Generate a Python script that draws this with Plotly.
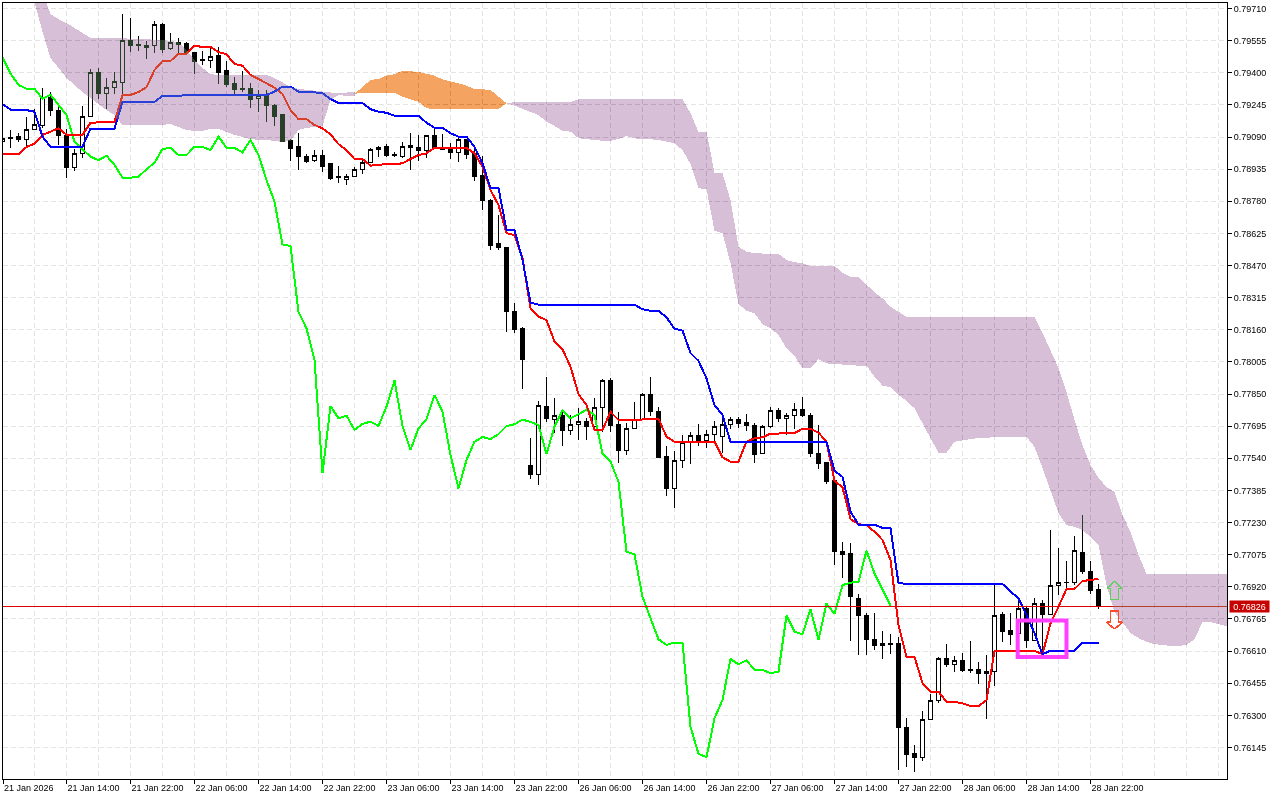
import plotly.graph_objects as go

opens = [
0.79066,0.79090,0.79092,0.79079,0.79127,0.79145,0.79280,0.79220,0.79096,0.78942,
0.79011,0.79188,0.79402,0.79299,0.79330,0.79352,0.79557,0.79534,0.79521,0.79532,
0.79635,0.79516,0.79548,0.79539,0.79497,0.79462,0.79460,0.79481,0.79409,0.79346,
0.79326,0.79326,0.79275,0.79289,0.79244,0.79198,0.79071,0.79042,0.78998,0.78976,
0.79003,0.78960,0.78900,0.78884,0.78899,0.78932,0.78966,0.79031,0.79042,0.79007,
0.78998,0.79047,0.79040,0.79024,0.79095,0.79039,0.79036,0.79016,0.79076,0.79011,
0.78902,0.78786,0.78574,0.78558,0.78249,0.78164,0.77503,0.77463,0.77792,0.77728,
0.77748,0.77673,0.77702,0.77720,0.77693,0.77786,0.77916,0.77701,0.77579,0.77683,
0.77725,0.77849,0.77767,0.77550,0.77394,0.77531,0.77619,0.77651,0.77625,0.77654,
0.77644,0.77702,0.77728,0.77714,0.77699,0.77562,0.77693,0.77770,0.77731,0.77748,
0.77777,0.77749,0.77564,0.77518,0.77431,0.77092,0.77079,0.76866,0.76784,0.76667,
0.76636,0.76647,0.76648,0.76243,0.76117,0.76098,0.76281,0.76373,0.76575,0.76546,
0.76566,0.76522,0.76522,0.76501,0.76513,0.76788,0.76707,0.76693,0.76817,0.76660,
0.76841,0.76786,0.76928,0.76943,0.76940,0.77088,0.76995,0.76905]
highs = [
0.79100,0.79124,0.79109,0.79187,0.79225,0.79326,0.79307,0.79240,0.79129,0.79032,
0.79240,0.79418,0.79423,0.79375,0.79404,0.79683,0.79664,0.79577,0.79553,0.79650,
0.79640,0.79592,0.79568,0.79548,0.79500,0.79505,0.79524,0.79524,0.79457,0.79380,
0.79409,0.79351,0.79317,0.79317,0.79250,0.79201,0.79080,0.79109,0.79008,0.79027,
0.79027,0.78965,0.78950,0.78912,0.78947,0.78989,0.79037,0.79048,0.79055,0.79016,
0.79065,0.79108,0.79100,0.79100,0.79132,0.79105,0.79063,0.79085,0.79079,0.79036,
0.78998,0.78790,0.78714,0.78561,0.78288,0.78172,0.77637,0.77815,0.77932,0.77831,
0.77773,0.77749,0.77781,0.77736,0.77830,0.77921,0.77926,0.77762,0.77709,0.77810,
0.77854,0.77932,0.77789,0.77599,0.77575,0.77653,0.77666,0.77706,0.77677,0.77719,
0.77759,0.77738,0.77738,0.77752,0.77709,0.77701,0.77786,0.77781,0.77757,0.77806,
0.77834,0.77757,0.77701,0.77524,0.77435,0.77135,0.77130,0.76886,0.76792,0.76794,
0.76707,0.76691,0.76677,0.76287,0.76157,0.76321,0.76403,0.76580,0.76644,0.76586,
0.76599,0.76657,0.76557,0.76591,0.76934,0.76800,0.76794,0.76857,0.76825,0.76868,
0.76857,0.77194,0.77106,0.77046,0.77165,0.77267,0.77046,0.76934]
lows = [
0.79037,0.79037,0.79066,0.79042,0.79124,0.79134,0.79191,0.79052,0.78892,0.78926,
0.78989,0.79187,0.79273,0.79225,0.79298,0.79293,0.79500,0.79505,0.79466,0.79495,
0.79495,0.79512,0.79495,0.79495,0.79394,0.79437,0.79423,0.79346,0.79331,0.79298,
0.79307,0.79230,0.79211,0.79162,0.79143,0.79066,0.78974,0.78931,0.78965,0.78970,
0.78921,0.78883,0.78868,0.78859,0.78899,0.78912,0.78963,0.78995,0.78995,0.78995,
0.78990,0.78931,0.78976,0.78990,0.79034,0.79027,0.78983,0.78971,0.78983,0.78878,
0.78738,0.78545,0.78545,0.78151,0.78146,0.77876,0.77440,0.77411,0.77717,0.77664,
0.77599,0.77653,0.77628,0.77628,0.77677,0.77667,0.77668,0.77519,0.77556,0.77683,
0.77725,0.77744,0.77542,0.77358,0.77299,0.77493,0.77513,0.77601,0.77588,0.77620,
0.77564,0.77683,0.77688,0.77672,0.77519,0.77562,0.77688,0.77717,0.77653,0.77680,
0.77741,0.77548,0.77490,0.77416,0.77025,0.76963,0.76659,0.76591,0.76591,0.76615,
0.76573,0.76596,0.76037,0.76053,0.76028,0.76081,0.76281,0.76361,0.76535,0.76511,
0.76508,0.76506,0.76451,0.76281,0.76443,0.76655,0.76640,0.76688,0.76625,0.76660,
0.76611,0.76786,0.76881,0.76916,0.76929,0.76982,0.76886,0.76815]
closes = [
0.79083,0.79082,0.79076,0.79127,0.79151,0.79280,0.79217,0.79096,0.78942,0.79011,
0.79191,0.79402,0.79298,0.79330,0.79359,0.79557,0.79531,0.79531,0.79532,0.79634,
0.79510,0.79547,0.79535,0.79497,0.79452,0.79458,0.79479,0.79399,0.79341,0.79318,
0.79320,0.79273,0.79289,0.79240,0.79191,0.79066,0.79034,0.78995,0.78974,0.79002,
0.78950,0.78888,0.78894,0.78901,0.78934,0.78968,0.79032,0.79040,0.79003,0.79002,
0.79045,0.79040,0.79024,0.79095,0.79034,0.79032,0.79014,0.79079,0.79008,0.78899,
0.78783,0.78569,0.78559,0.78247,0.78161,0.78016,0.77460,0.77796,0.77731,0.77748,
0.77673,0.77704,0.77719,0.77693,0.77786,0.77916,0.77697,0.77579,0.77683,0.77725,
0.77849,0.77765,0.77546,0.77394,0.77531,0.77617,0.77651,0.77628,0.77656,0.77695,
0.77704,0.77728,0.77710,0.77697,0.77558,0.77695,0.77770,0.77733,0.77748,0.77777,
0.77746,0.77562,0.77514,0.77427,0.77090,0.77075,0.76872,0.76781,0.76665,0.76636,
0.76648,0.76644,0.76240,0.76109,0.76096,0.76281,0.76373,0.76575,0.76544,0.76564,
0.76517,0.76516,0.76501,0.76511,0.76783,0.76704,0.76688,0.76817,0.76660,0.76841,
0.76786,0.76928,0.76940,0.76940,0.77094,0.76993,0.76901,0.76826]

tenkan = [
0.79007,0.79007,0.79007,0.79042,0.79058,0.79100,0.79116,0.79132,0.79101,0.79101,
0.79101,0.79159,0.79162,0.79162,0.79164,0.79291,0.79293,0.79307,0.79330,0.79413,
0.79457,0.79457,0.79491,0.79492,0.79531,0.79524,0.79524,0.79500,0.79489,0.79442,
0.79434,0.79389,0.79370,0.79349,0.79328,0.79298,0.79220,0.79176,0.79176,0.79148,
0.79132,0.79103,0.79056,0.79027,0.78984,0.78984,0.78952,0.78955,0.78960,0.78960,
0.78963,0.78984,0.79003,0.79011,0.79038,0.79038,0.79038,0.79038,0.79038,0.79011,
0.78947,0.78834,0.78762,0.78626,0.78617,0.78506,0.78264,0.78223,0.78207,0.78103,
0.78066,0.77982,0.77850,0.77797,0.77677,0.77677,0.77764,0.77725,0.77725,0.77725,
0.77725,0.77728,0.77731,0.77644,0.77620,0.77620,0.77620,0.77620,0.77620,0.77620,
0.77545,0.77524,0.77524,0.77620,0.77637,0.77641,0.77659,0.77659,0.77659,0.77661,
0.77683,0.77683,0.77664,0.77620,0.77431,0.77400,0.77247,0.77222,0.77218,0.77186,
0.77146,0.77050,0.76736,0.76583,0.76583,0.76455,0.76414,0.76414,0.76366,0.76365,
0.76358,0.76345,0.76345,0.76374,0.76611,0.76611,0.76611,0.76611,0.76611,0.76611,
0.76595,0.76744,0.76824,0.76910,0.76910,0.76948,0.76953,0.76959]
kijun = [
0.79249,0.79222,0.79222,0.79220,0.79212,0.79092,0.79043,0.79043,0.79043,0.79043,
0.79043,0.79130,0.79130,0.79130,0.79130,0.79259,0.79259,0.79259,0.79259,0.79259,
0.79288,0.79288,0.79288,0.79293,0.79293,0.79293,0.79293,0.79293,0.79293,0.79293,
0.79293,0.79293,0.79293,0.79293,0.79309,0.79333,0.79333,0.79309,0.79309,0.79306,
0.79302,0.79273,0.79254,0.79254,0.79256,0.79253,0.79224,0.79212,0.79207,0.79193,
0.79193,0.79193,0.79193,0.79159,0.79135,0.79135,0.79108,0.79092,0.79092,0.79043,
0.78963,0.78844,0.78844,0.78641,0.78641,0.78497,0.78291,0.78281,0.78281,0.78281,
0.78281,0.78281,0.78281,0.78281,0.78281,0.78281,0.78281,0.78281,0.78281,0.78281,
0.78259,0.78252,0.78252,0.78220,0.78165,0.78156,0.78048,0.78010,0.77926,0.77797,
0.77749,0.77620,0.77620,0.77620,0.77620,0.77620,0.77620,0.77620,0.77620,0.77620,
0.77620,0.77620,0.77620,0.77620,0.77480,0.77451,0.77283,0.77220,0.77220,0.77220,
0.77204,0.77204,0.76937,0.76934,0.76934,0.76934,0.76934,0.76934,0.76934,0.76934,
0.76934,0.76934,0.76934,0.76934,0.76934,0.76934,0.76897,0.76865,0.76784,0.76696,
0.76595,0.76612,0.76612,0.76612,0.76612,0.76651,0.76651,0.76651]
chikou = [
0.79475,0.79397,0.79341,0.79323,0.79323,0.79275,0.79294,0.79244,0.79196,0.79067,
0.79031,0.78995,0.78978,0.79000,0.78955,0.78894,0.78894,0.78899,0.78934,0.78966,
0.79032,0.79038,0.79003,0.79003,0.79043,0.79043,0.79027,0.79092,0.79038,0.79038,
0.79016,0.79076,0.79003,0.78883,0.78778,0.78572,0.78564,0.78247,0.78167,0.78014,
0.77468,0.77792,0.77733,0.77746,0.77677,0.77706,0.77717,0.77696,0.77789,0.77915,
0.77696,0.77580,0.77685,0.77728,0.77846,0.77765,0.77556,0.77395,0.77532,0.77620,
0.77643,0.77632,0.77657,0.77696,0.77704,0.77727,0.77715,0.77701,0.77561,0.77693,
0.77772,0.77733,0.77752,0.77775,0.77749,0.77562,0.77524,0.77427,0.77090,0.77077,
0.76872,0.76768,0.76667,0.76640,0.76651,0.76651,0.76245,0.76114,0.76098,0.76286,
0.76374,0.76572,0.76546,0.76566,0.76519,0.76520,0.76503,0.76511,0.76781,0.76704,
0.76691,0.76813,0.76664,0.76839,0.76790,0.76928,0.76940,0.76945,0.77094,0.76985,
0.76905,0.76829]

# Cloud, first purple stretch: bars 4..44
cloud1_start = 4
cloud1_upper = [
0.79896,0.79790,0.79683,0.79659,0.79640,0.79616,0.79592,0.79568,0.79568,0.79568,
0.79568,0.79568,0.79563,0.79563,0.79563,0.79558,0.79558,0.79553,0.79548,0.79510,
0.79462,0.79423,0.79394,0.79389,0.79389,0.79389,0.79389,0.79389,0.79389,0.79389,
0.79375,0.79351,0.79331,0.79322,0.79317,0.79312,0.79307,0.79305,0.79302,0.79305,
0.79307]
cloud1_lower = [
0.79741,0.79597,0.79471,0.79423,0.79375,0.79341,0.79307,0.79278,0.79249,0.79220,
0.79196,0.79148,0.79148,0.79148,0.79148,0.79148,0.79148,0.79153,0.79138,0.79124,
0.79119,0.79119,0.79129,0.79129,0.79114,0.79100,0.79090,0.79080,0.79076,0.79076,
0.79071,0.79066,0.79071,0.79124,0.79134,0.79138,0.79143,0.79269,0.79293,0.79288,
0.79289]
# Cloud, orange stretch: bars 44..63
cloud2_start = 44
cloud2_upper = [
0.79298,0.79330,0.79365,0.79370,0.79386,0.79393,0.79410,0.79407,0.79404,0.79395,
0.79386,0.79368,0.79360,0.79349,0.79338,0.79320,0.79320,0.79317,0.79285,0.79253]
cloud2_lower = [
0.79298,0.79304,0.79304,0.79304,0.79304,0.79304,0.79285,0.79272,0.79260,0.79229,
0.79225,0.79225,0.79225,0.79225,0.79225,0.79225,0.79225,0.79225,0.79225,0.79253]
# Cloud, second purple stretch: bars 63..153
cloud3_start = 63
cloud3_upper = [
0.79253,0.79258,0.79258,0.79258,0.79258,0.79258,0.79258,0.79258,0.79258,0.79272,
0.79273,0.79273,0.79273,0.79273,0.79273,0.79273,0.79273,0.79273,0.79273,0.79273,
0.79273,0.79273,0.79273,0.79206,0.79114,0.79114,0.78918,0.78915,0.78786,0.78561,
0.78537,0.78529,0.78529,0.78529,0.78526,0.78497,0.78486,0.78481,0.78469,0.78469,
0.78469,0.78469,0.78435,0.78416,0.78415,0.78380,0.78341,0.78312,0.78271,0.78247,
0.78222,0.78222,0.78222,0.78222,0.78222,0.78222,0.78222,0.78222,0.78222,0.78222,
0.78222,0.78222,0.78222,0.78222,0.78222,0.78222,0.78222,0.78145,0.78063,0.77976,
0.77860,0.77725,0.77604,0.77508,0.77445,0.77402,0.77378,0.77267,0.77185,0.77074,
0.76982,0.76982,0.76982,0.76982,0.76982,0.76982,0.76982,0.76982,0.76982,0.76982,
0.76982]
cloud3_lower = [
0.79253,0.79241,0.79225,0.79212,0.79196,0.79164,0.79143,0.79120,0.79116,0.79084,
0.79079,0.79076,0.79072,0.79072,0.79080,0.79095,0.79084,0.79079,0.79079,0.79076,
0.79067,0.79060,0.79027,0.78960,0.78843,0.78838,0.78637,0.78626,0.78481,0.78284,
0.78252,0.78240,0.78188,0.78167,0.78135,0.78071,0.78034,0.77974,0.77974,0.78018,
0.77998,0.77998,0.77994,0.77990,0.77987,0.77987,0.77934,0.77890,0.77883,0.77846,
0.77817,0.77781,0.77709,0.77637,0.77567,0.77567,0.77620,0.77628,0.77633,0.77638,
0.77638,0.77643,0.77643,0.77643,0.77643,0.77643,0.77595,0.77493,0.77387,0.77276,
0.77218,0.77209,0.77194,0.77160,0.77122,0.76929,0.76799,0.76746,0.76697,0.76673,
0.76654,0.76644,0.76640,0.76635,0.76635,0.76640,0.76668,0.76750,0.76750,0.76741,
0.76731]

assert len(opens) == len(highs) == len(lows) == len(closes) == len(tenkan) == len(kijun) == 138
assert len(chikou) == 112
assert len(cloud1_upper) == len(cloud1_lower)
assert len(cloud2_upper) == len(cloud2_lower)
assert len(cloud3_upper) == len(cloud3_lower) == 91

current_price = 0.76826
price_ticks = [0.79710,0.79555,0.79400,0.79245,0.79090,0.78935,0.78780,0.78625,0.78470,0.78315,0.78160,0.78005,
               0.77850,0.77695,0.77540,0.77385,0.77230,0.77075,0.76920,0.76765,0.76610,0.76455,0.76300,0.76145]
time_labels = ["21 Jan 2026","21 Jan 14:00","21 Jan 22:00","22 Jan 06:00","22 Jan 14:00","22 Jan 22:00",
               "23 Jan 06:00","23 Jan 14:00","23 Jan 22:00","26 Jan 06:00","26 Jan 14:00","26 Jan 22:00",
               "27 Jan 06:00","27 Jan 14:00","27 Jan 22:00","28 Jan 06:00","28 Jan 14:00","28 Jan 22:00"]

FONT = "Liberation Sans"
THISTLE = "#D8BFD8"
SANDY = "#F4A460"
GRID = "#E4E4E4"
DASH = "5px,3px"
X0, X1 = 0.0625, 153.0625
PPP = 0.00155 / 32.13            # price per pixel
Y1 = 0.79710 + 5.5 * PPP
Y0 = 0.79710 - 770.5 * PPP
time_ticks = [X0 if i == 0 else 8 * i for i in range(len(time_labels))]
grid_bars = [k for k in range(4, 154, 4) if k not in time_ticks]

bars = list(range(len(opens)))
fig = go.Figure()
fig.add_trace(go.Candlestick(
    x=bars, open=opens, high=highs, low=lows, close=closes, whiskerwidth=0,
    increasing=dict(line=dict(color="#000000", width=1), fillcolor="#FFFFFF"),
    decreasing=dict(line=dict(color="#000000", width=1), fillcolor="#000000"),
    hoverinfo="skip", name="Candles"))
fig.add_trace(go.Scatter(x=list(range(len(chikou))), y=chikou, mode="lines", name="Chikou Span",
                         line=dict(color="#00FF00", width=2), hoverinfo="skip"))
fig.add_trace(go.Scatter(x=bars, y=tenkan, mode="lines", name="Tenkan-sen",
                         line=dict(color="#FF0000", width=2), hoverinfo="skip"))
fig.add_trace(go.Scatter(x=bars, y=kijun, mode="lines", name="Kijun-sen",
                         line=dict(color="#0000FF", width=2), hoverinfo="skip"))
fig.add_trace(go.Scatter(x=[X0, X1], y=[current_price, current_price], mode="lines", name="Bid",
                         line=dict(color="#E00000", width=1), hoverinfo="skip"))

def add_cloud(start, upper, lower, colour):
    xs = [start + i for i in range(len(upper))]
    fig.add_trace(go.Scatter(x=xs + xs[::-1], y=upper + lower[::-1], mode="lines", fill="toself",
                             fillcolor=colour, line=dict(width=0), hoverinfo="skip", name="Kumo"))

add_cloud(cloud1_start, cloud1_upper, cloud1_lower, THISTLE)
add_cloud(cloud2_start, cloud2_upper, cloud2_lower, SANDY)
add_cloud(cloud3_start, cloud3_upper, cloud3_lower, THISTLE)

def arrow(tip_price, direction, colour):
    s = direction * PPP
    bar = 139
    hw, sw = 0.97, 0.47
    xs = [bar, bar + hw, bar + sw, bar + sw, bar - sw, bar - sw, bar - hw, bar]
    ys = [tip_price, tip_price - 7.3 * s, tip_price - 7.3 * s, tip_price - 18.3 * s,
          tip_price - 18.3 * s, tip_price - 7.3 * s, tip_price - 7.3 * s, tip_price]
    fig.add_trace(go.Scatter(x=xs, y=ys, mode="lines", line=dict(color=colour, width=1.5), hoverinfo="skip"))

arrow(0.76948, 1, "#5FCF5F")
arrow(0.76715, -1, "#FF4B2B")

fig.add_shape(type="rect", x0=126.9, x1=133.0, y0=0.76582, y1=0.76758,
              line=dict(color="#FF40FF", width=4), fillcolor="rgba(0,0,0,0)", layer="above")
fig.add_annotation(x=1, xref="paper", y=current_price, yref="y", xanchor="left", xshift=2, yanchor="middle",
                   text="0.76826", showarrow=False, bgcolor="#C80000", width=39, height=11, borderpad=0,
                   font=dict(family=FONT, size=9, color="#FFFFFF"))

axis_common = dict(showline=True, mirror=True, linecolor="#000000", linewidth=1, zeroline=False,
                   ticks="outside", ticklen=4, tickwidth=1, tickcolor="#000000",
                   showgrid=True, gridcolor=GRID, griddash=DASH, gridwidth=1, automargin=False,
                   tickfont=dict(family=FONT, size=9, color="#000000"))
fig.update_layout(
    width=1280, height=800, autosize=False, showlegend=False, hovermode=False,
    margin=dict(l=3, r=53, t=3, b=21, pad=0), paper_bgcolor="#FFFFFF", plot_bgcolor="#FFFFFF",
    boxgap=0.5, boxgroupgap=0, dragmode=False,
    xaxis=dict(axis_common, range=[X0, X1], tickmode="array", tickvals=time_ticks, ticktext=time_labels,
               tickangle=0, ticklabelposition="outside right", ticklabeloverflow="allow",
               rangeslider=dict(visible=False), type="linear",
               minor=dict(tickmode="array", tickvals=grid_bars, ticks="", showgrid=True, gridcolor=GRID,
                          griddash=DASH, gridwidth=1)),
    yaxis=dict(axis_common, range=[Y0, Y1], side="right", tickmode="array", tickvals=price_ticks,
               ticktext=[f"{p:.5f}" for p in price_ticks]),
)

post = """
(function(){
  document.documentElement.style.margin='0';
  document.body.style.margin='0';
  var gd=document.getElementById('{plot_id}');
  var layer=gd.querySelector('.scatterlayer');
  if(!layer) return;
  var plot=layer.parentElement;
  var clip=plot.getAttribute('clip-path');
  plot.removeAttribute('clip-path');
  var box=plot.querySelector('.boxlayer');
  if(box){
    if(clip) box.setAttribute('clip-path',clip);
    box.querySelectorAll('path').forEach(function(p){p.style.shapeRendering='crispEdges';});
  }
  layer.querySelectorAll('.trace').forEach(function(t){
    var f=t.querySelector('.js-fill');
    if(!(f&&f.getAttribute('d'))){
      if(clip) t.setAttribute('clip-path',clip);
      t.querySelectorAll('path').forEach(function(p){p.style.shapeRendering='crispEdges';});
      return;
    }
    var c=f.style.fill.replace(/\\s/g,'');
    if(c==='rgb(216,191,216)'){f.style.fill='rgb(39,64,39)';}
    else if(c==='rgb(244,164,96)'){f.style.fill='rgb(11,91,159)';}
    f.style.mixBlendMode='difference';
    f.style.shapeRendering='crispEdges';
    if(clip) f.setAttribute('clip-path',clip);
  });
})();
"""
fig.write_html("out.html", post_script=post, config={"displayModeBar": False, "staticPlot": True})
